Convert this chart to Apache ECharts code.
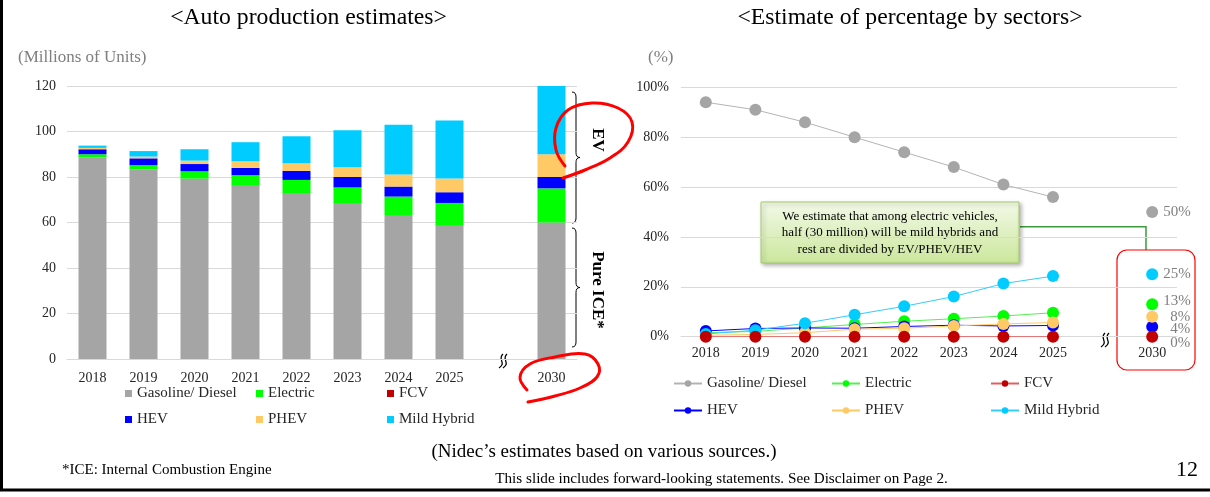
<!DOCTYPE html>
<html>
<head>
<meta charset="utf-8">
<style>
html, body { margin: 0; padding: 0; background: #fff; }
#chart { width: 1210px; height: 497px; }
</style>
<script src="https://cdn.jsdelivr.net/npm/echarts@6/dist/echarts.min.js"></script>
</head>
<body>
<div id="chart"></div>
<script>
// categories (empty slot = axis break before 2030)
var years = ['2018', '2019', '2020', '2021', '2022', '2023', '2024', '2025', '', '2030'];

// auto production, millions of units
var gasoline = [88.5, 83.3, 79.3, 76.1, 72.6, 68.2, 62.9, 58.5, null, 60];
var electric = [1.5, 1.9, 3.2, 4.7, 6.1, 7.2, 8.5, 10.1, null, 15];
var fcv = [0, 0, 0, 0, 0, 0, 0, 0, null, 0];
var hev = [2.2, 3.0, 3.2, 3.2, 4.0, 4.6, 4.4, 4.7, null, 5];
var phev = [0.6, 0.8, 1.5, 2.9, 3.3, 4.3, 5.3, 6.0, null, 10];
var mild = [1.0, 2.4, 5.0, 8.4, 11.9, 16.2, 21.9, 25.5, null, 30];

// share by sector, %
var gasolinePct = [94, 91, 86, 80, 74, 68, 61, 56, null, 50];
var electricPct = [1.6, 2.1, 3.5, 4.9, 6.2, 7.2, 8.3, 9.6, null, 13];
var fcvPct = [0, 0, 0, 0, 0, 0, 0, 0, null, 0];
var hevPct = [2.3, 3.3, 3.5, 3.4, 4.1, 4.6, 4.3, 4.5, null, 4];
var phevPct = [0.6, 0.9, 1.6, 3.0, 3.4, 4.3, 5.1, 5.7, null, 8];
var mildPct = [1.1, 2.6, 5.4, 8.8, 12.2, 16.1, 21.3, 24.3, null, 25];

var names = ['Gasoline/ Diesel', 'Electric', 'FCV', 'HEV', 'PHEV', 'Mild Hybrid'];

var serif = "'Liberation Serif', 'Times New Roman', serif";
var colors = ['#a5a5a5', '#00ff00', '#c00000', '#0000ff', '#ffc966', '#00ccff'];
var lineColors = ['#b4b4b4', '#55ee55', '#e06060', '#0000ff', '#ffc966', '#33ccff'];
var pctLabelOffset = [[0, 0], [0, -3], [7, 6], [7, 2], [7, 0], [0, 0]];

var chart = echarts.init(document.getElementById('chart'));

var barData = [gasoline, electric, fcv, hev, phev, mild];
var pctData = [gasolinePct, electricPct, fcvPct, hevPct, phevPct, mildPct];

var series = [];
names.forEach(function (n, i) {
  series.push({
    name: n,
    type: 'bar',
    stack: 'prod',
    xAxisIndex: 0,
    yAxisIndex: 0,
    barWidth: 28,
    itemStyle: { color: colors[i] },
    data: barData[i]
  });
});
names.forEach(function (n, i) {
  series.push({
    name: '% ' + n,
    type: 'line',
    xAxisIndex: 1,
    yAxisIndex: 1,
    symbol: 'circle',
    symbolSize: 12,
    connectNulls: false,
    itemStyle: { color: colors[i] },
    lineStyle: { color: lineColors[i], width: 1 },
    z: i === 2 ? 3 : 2,
    data: pctData[i].map(function (v, k) {
      return {
        value: v,
        label: {
          show: k === 9,
          position: 'right',
          distance: 5,
          offset: pctLabelOffset[i],
          formatter: '{c}%',
          color: '#7f7f7f',
          fontFamily: serif,
          fontSize: 15
        }
      };
    })
  });
});

function legendCol(left, top, data, isLine) {
  var l = {
    orient: 'vertical',
    left: left,
    top: top,
    data: data,
    selectedMode: false,
    itemGap: isLine ? 12 : 11,
    itemWidth: isLine ? 28 : 7,
    itemHeight: isLine ? 8 : 7,
    textStyle: { fontFamily: serif, fontSize: 15, color: '#262626' }
  };
  if (isLine) {
    l.formatter = function (n) { return n.slice(2); };
  } else {
    l.icon = 'rect';
  }
  return l;
}

function brace(a, y0, y1) {
  var ym = (y0 + y1) / 2;
  var s = { stroke: '#000', lineWidth: 1, fill: null };
  return [
    { type: 'bezierCurve', shape: { x1: a, y1: y0, cpx1: a + 3, cpy1: y0, cpx2: a + 4, cpy2: y0 + 2, x2: a + 4, y2: y0 + 5 }, style: s },
    { type: 'line', shape: { x1: a + 4, y1: y0 + 5, x2: a + 4, y2: ym - 5 }, style: s },
    { type: 'bezierCurve', shape: { x1: a + 4, y1: ym - 5, cpx1: a + 4, cpy1: ym - 2, cpx2: a + 5, cpy2: ym, x2: a + 8, y2: ym }, style: s },
    { type: 'bezierCurve', shape: { x1: a + 8, y1: ym, cpx1: a + 5, cpy1: ym, cpx2: a + 4, cpy2: ym + 2, x2: a + 4, y2: ym + 5 }, style: s },
    { type: 'line', shape: { x1: a + 4, y1: ym + 5, x2: a + 4, y2: y1 - 5 }, style: s },
    { type: 'bezierCurve', shape: { x1: a + 4, y1: y1 - 5, cpx1: a + 4, cpy1: y1 - 2, cpx2: a + 3, cpy2: y1, x2: a, y2: y1 }, style: s }
  ];
}

function breakMark(cx, cy) {
  var s = { stroke: '#000', lineWidth: 1.3, fill: null };
  return [0, 4].map(function (dx) {
    return {
      type: 'bezierCurve',
      shape: { x1: cx + dx + 2, y1: cy - 7, cpx1: cx + dx - 4, cpy1: cy - 2, cpx2: cx + dx + 6, cpy2: cy + 2, x2: cx + dx - 2, y2: cy + 7 },
      style: s
    };
  });
}

function txt(text, x, y, size, opts) {
  opts = opts || {};
  return {
    type: 'text',
    z: 10,
    rotation: opts.rotation || 0,
    x: x,
    y: y,
    style: {
      text: text,
      font: (opts.bold ? 'bold ' : '') + size + 'px ' + serif,
      fill: opts.color || '#000',
      textAlign: opts.align || 'left',
      textVerticalAlign: 'middle'
    }
  };
}

var redStroke = { stroke: '#ff0000', lineWidth: 3, fill: null, lineCap: 'round' };

var graphics = [
  // frame
  { type: 'line', shape: { x1: 1.5, y1: 0, x2: 1.5, y2: 490 }, style: { stroke: '#000', lineWidth: 3 } },
  { type: 'line', shape: { x1: 0, y1: 490, x2: 1210, y2: 490 }, style: { stroke: '#000', lineWidth: 3 } },
  txt('<Auto production estimates>', 308.5, 18, 23.7, { align: 'center' }),
  txt('<Estimate of percentage by sectors>', 910, 18, 23.7, { align: 'center' }),
  txt('(Millions of Units)', 18, 58, 17, { color: '#7f7f7f' }),
  txt('(%)', 648, 58, 17, { color: '#7f7f7f' }),
  txt('EV', 597, 140, 17, { bold: true, rotation: -Math.PI / 2, align: 'center' }),
  txt('Pure ICE*', 597, 290, 17, { bold: true, rotation: -Math.PI / 2, align: 'center' }),
  txt("(Nidec\u2019s estimates based on various sources.)", 604, 452, 19, { align: 'center' }),
  txt('*ICE: Internal Combustion Engine', 62, 470, 15),
  txt('This slide includes forward-looking statements. See Disclaimer on Page 2.', 721.5, 479, 15.2, { align: 'center' }),
  txt('12', 1198, 470, 22, { align: 'right' }),
  // connector to 2030 box
  { type: 'polyline', shape: { points: [[1020, 226.7], [1146, 226.7], [1146, 250]] }, style: { stroke: '#3d9a3d', lineWidth: 1.5, fill: null } },
  { type: 'rect', shape: { x: 1117, y: 250, width: 78, height: 120, r: 10 }, style: { stroke: '#ff0000', lineWidth: 1.2, fill: null } },
  {
    type: 'group', x: 761, y: 202, z: 10,
    children: [
      {
        type: 'rect', shape: { x: 0, y: 0, width: 258, height: 61 },
        style: {
          fill: { type: 'linear', x: 0, y: 0, x2: 0, y2: 1, colorStops: [{ offset: 0, color: '#f3f9e8' }, { offset: 1, color: '#cbe79c' }] },
          stroke: '#a3c96a', lineWidth: 1,
          shadowBlur: 4, shadowOffsetX: 2, shadowOffsetY: 2, shadowColor: 'rgba(0,0,0,0.3)'
        }
      },
      {
        type: 'text', x: 129, y: 31,
        style: {
          text: 'We estimate that among electric vehicles,\nhalf (30 million) will be mild hybrids and\nrest are divided by EV/PHEV/HEV',
          font: '13px ' + serif, fill: '#000', textAlign: 'center', textVerticalAlign: 'middle', lineHeight: 16.5
        }
      }
    ]
  },
  // hand-drawn red marks
  { type: 'polyline', z: 20, shape: { smooth: 0.4, points: [[565, 166], [556, 150], [556, 128], [568, 110], [592, 103], [618, 108], [632, 122], [628, 142], [610, 158], [585, 170], [563, 178]] }, style: redStroke },
  { type: 'polyline', z: 20, shape: { smooth: 0.4, points: [[527, 390], [520, 377], [530, 364], [555, 357], [585, 354], [598, 364], [597, 377], [580, 388], [555, 396], [528, 402]] }, style: redStroke }
];
graphics = graphics.concat(brace(572, 92, 223), brace(572, 228, 347), breakMark(501, 361), breakMark(1103, 340));

chart.setOption({
  animation: false,
  textStyle: { fontFamily: serif },
  grid: [
    { left: 67, top: 86, width: 510, height: 273 },
    { left: 681, top: 87.3, width: 496, height: 249.4 }
  ],
  xAxis: [
    {
      gridIndex: 0, type: 'category', data: years,
      axisTick: { show: false },
      axisLine: { lineStyle: { color: '#d9d9d9' } },
      axisLabel: { margin: 12, fontFamily: serif, fontSize: 14, color: '#262626', interval: 0 }
    },
    {
      gridIndex: 1, type: 'category', data: years,
      axisTick: { show: false },
      axisLine: { lineStyle: { color: '#d9d9d9' } },
      axisLabel: { margin: 10, fontFamily: serif, fontSize: 14, color: '#262626', interval: 0 }
    }
  ],
  yAxis: [
    {
      gridIndex: 0, type: 'value', min: 0, max: 120, interval: 20,
      axisLine: { show: false }, axisTick: { show: false },
      splitLine: { lineStyle: { color: '#d9d9d9' } },
      axisLabel: { margin: 11, fontFamily: serif, fontSize: 14, color: '#262626' }
    },
    {
      gridIndex: 1, type: 'value', min: 0, max: 100, interval: 20,
      axisLine: { show: false }, axisTick: { show: false },
      splitLine: { lineStyle: { color: '#d9d9d9' } },
      axisLabel: { margin: 12, fontFamily: serif, fontSize: 14, color: '#262626', formatter: '{value}%' }
    }
  ],
  legend: [
    legendCol(120, 381, [names[0], names[3]]),
    legendCol(251, 381, [names[1], names[4]]),
    legendCol(382, 381, [names[2], names[5]]),
    legendCol(668, 371, ['% ' + names[0], '% ' + names[3]], true),
    legendCol(826, 371, ['% ' + names[1], '% ' + names[4]], true),
    legendCol(985, 371, ['% ' + names[2], '% ' + names[5]], true)
  ],
  graphic: { elements: graphics },
  series: series
});
</script>
</body>
</html>
